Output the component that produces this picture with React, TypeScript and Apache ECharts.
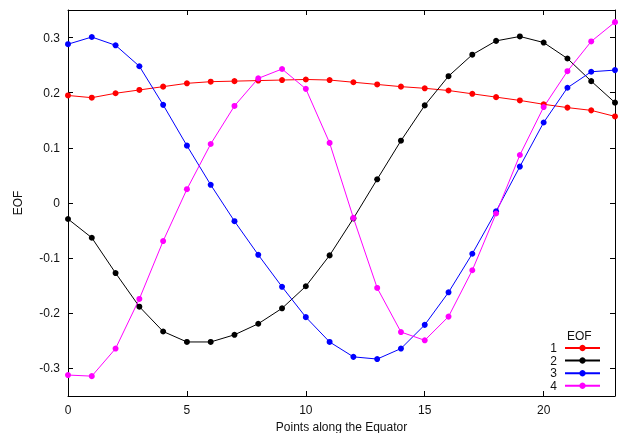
import React, { useEffect, useRef } from "react";
import * as echarts from "echarts";

const xValues = [0, 1, 2, 3, 4, 5, 6, 7, 8, 9, 10, 11, 12, 13, 14, 15, 16, 17, 18, 19, 20, 21, 22, 23];
const eof1 = [0.195, 0.191, 0.199, 0.205, 0.211, 0.217, 0.22, 0.221, 0.222, 0.223, 0.224, 0.223, 0.219, 0.215, 0.211, 0.208, 0.204, 0.198, 0.192, 0.186, 0.179, 0.173, 0.168, 0.157];
const eof2 = [-0.029, -0.063, -0.127, -0.188, -0.233, -0.252, -0.252, -0.239, -0.219, -0.191, -0.151, -0.095, -0.028, 0.043, 0.113, 0.177, 0.23, 0.269, 0.294, 0.302, 0.291, 0.262, 0.221, 0.182];
const eof3 = [0.288, 0.301, 0.286, 0.248, 0.178, 0.104, 0.033, -0.033, -0.094, -0.152, -0.207, -0.252, -0.279, -0.283, -0.264, -0.221, -0.162, -0.092, -0.015, 0.066, 0.146, 0.209, 0.238, 0.241];
const eof4 = [-0.312, -0.314, -0.264, -0.174, -0.069, 0.025, 0.107, 0.176, 0.226, 0.243, 0.207, 0.109, -0.027, -0.154, -0.234, -0.249, -0.206, -0.122, -0.019, 0.087, 0.174, 0.239, 0.293, 0.328];
const seriesNames = ["1", "2", "3", "4"];
const seriesColors = ["#ff0000", "#000000", "#0000ff", "#ff00ff"];
const xTicks = [0, 5, 10, 15, 20];
const yTicks = [-0.3, -0.2, -0.1, 0, 0.1, 0.2, 0.3];

const FONT = "Liberation Sans, Arial, sans-serif";

export default function App() {
  const ref = useRef<HTMLDivElement>(null);
  useEffect(() => {
    if (!ref.current) return;
    const chart = echarts.init(ref.current, null, { renderer: "svg" });
    const allData = [eof1, eof2, eof3, eof4];
    const axisCommon = {
      axisLine: { show: true, onZero: false, lineStyle: { color: "#000", width: 1 } },
      splitLine: { show: false },
    };
    chart.setOption({
      animation: false,
      textStyle: { fontFamily: FONT },
      grid: { left: 68, right: 3, top: 10, bottom: 37, containLabel: false, outerBoundsMode: "none" },
      xAxis: [
        {
          type: "value",
          min: 0,
          max: 23,
          ...axisCommon,
          axisTick: { inside: true, length: 5, customValues: xTicks, lineStyle: { color: "#000" } },
          axisLabel: { customValues: xTicks, color: "#111", fontSize: 12, margin: 8, fontFamily: FONT },
          name: "Points along the Equator",
          nameLocation: "middle",
          nameGap: 24,
          nameTextStyle: { color: "#111", fontSize: 12, fontFamily: FONT },
        },
        {
          type: "value",
          position: "top",
          min: 0,
          max: 23,
          ...axisCommon,
          axisTick: { inside: true, length: 5, customValues: xTicks, lineStyle: { color: "#000" } },
          axisLabel: { show: false },
        },
      ],
      yAxis: [
        {
          type: "value",
          min: -0.35,
          max: 0.35,
          ...axisCommon,
          axisTick: { inside: true, length: 5, customValues: yTicks, lineStyle: { color: "#000" } },
          axisLabel: {
            customValues: yTicks,
            color: "#111",
            fontSize: 12,
            margin: 8,
            fontFamily: FONT,
            formatter: (v: number) => String(Math.round(v * 10) / 10),
          },
          name: "EOF",
          nameLocation: "middle",
          nameGap: 44,
          nameRotate: 90,
          nameTextStyle: { color: "#111", fontSize: 12, fontFamily: FONT },
        },
        {
          type: "value",
          position: "right",
          min: -0.35,
          max: 0.35,
          ...axisCommon,
          axisTick: { inside: true, length: 5, customValues: yTicks, lineStyle: { color: "#000" } },
          axisLabel: { show: false },
        },
      ],
      legend: {
        orient: "vertical",
        right: 17,
        top: 342,
        align: "right",
        itemWidth: 35,
        itemHeight: 8,
        itemGap: 0.6,
        padding: 0,
        textStyle: { color: "#111", fontSize: 12, lineHeight: 12, fontFamily: FONT, padding: [0, 3, 0, 0] },
        data: seriesNames,
      },
      graphic: [
        {
          type: "text",
          left: 567,
          top: 330,
          style: { text: "EOF", fill: "#111", font: "12px " + FONT },
        },
      ],
      series: allData.map((d, i) => ({
        name: seriesNames[i],
        type: "line",
        xAxisIndex: 0,
        yAxisIndex: 0,
        data: xValues.map((x, j) => [x, d[j]]),
        symbol: "circle",
        symbolSize: 6,
        showSymbol: true,
        lineStyle: { color: seriesColors[i], width: 1 },
        itemStyle: { color: seriesColors[i] },
        emphasis: { disabled: true },
      })),
    });
    return () => chart.dispose();
  }, []);
  return <div ref={ref} style={{ position: "fixed", left: 0, top: 0, width: 618, height: 433 }} />;
}
